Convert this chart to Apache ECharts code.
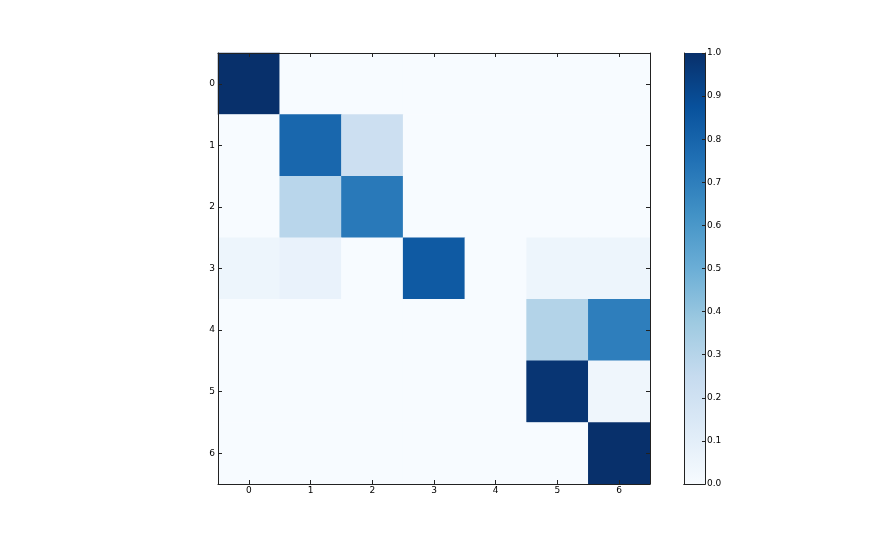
<!DOCTYPE html>
<html>
<head>
<meta charset="utf-8">
<script src="https://cdn.jsdelivr.net/npm/echarts@6/dist/echarts.min.js"></script>
<style>html,body{margin:0;padding:0;background:#fff}#c{width:872px;height:538px}</style>
</head>
<body>
<div id="c"></div>
<script>
var xLabels = ['0','1','2','3','4','5','6'];
var yLabels = ['0','1','2','3','4','5','6'];
var row0 = [1.00, 0.00, 0.00, 0.00, 0.00, 0.00, 0.00];
var row1 = [0.00, 0.79, 0.22, 0.00, 0.00, 0.00, 0.00];
var row2 = [0.00, 0.29, 0.72, 0.00, 0.00, 0.00, 0.00];
var row3 = [0.05, 0.07, 0.00, 0.84, 0.00, 0.05, 0.05];
var row4 = [0.00, 0.00, 0.00, 0.00, 0.00, 0.31, 0.70];
var row5 = [0.00, 0.00, 0.00, 0.00, 0.00, 0.98, 0.04];
var row6 = [0.00, 0.00, 0.00, 0.00, 0.00, 0.00, 1.00];
var colorbarTicks = [0.0, 0.1, 0.2, 0.3, 0.4, 0.5, 0.6, 0.7, 0.8, 0.9, 1.0];

var rows = [row0, row1, row2, row3, row4, row5, row6];
var blues = ['#f7fbff','#deebf7','#c6dbef','#9ecae1','#6baed6','#4292c6','#2171b5','#08519c','#08306b'];

var data = [];
rows.forEach(function (r, yi) {
  r.forEach(function (v, xi) { data.push([xi, yi, v]); });
});

var axisCol = '#222';
var lblStyle = { color: '#000', fontSize: 9, fontFamily: 'DejaVu Sans' };
var tickStyle = { show: true, inside: true, length: 4, alignWithLabel: true, lineStyle: { color: axisCol } };

var chart = echarts.init(document.getElementById('c'), null, { renderer: 'canvas' });
chart.setOption({
  animation: false,
  backgroundColor: '#fff',
  grid: [
    { left: 218, top: 53, width: 432, height: 431 },
    { left: 684, top: 53, width: 21, height: 431 }
  ],
  xAxis: [
    { type: 'category', gridIndex: 0, data: xLabels, position: 'bottom', z: 10,
      axisLine: { lineStyle: { color: axisCol } }, axisTick: tickStyle,
      axisLabel: Object.assign({ margin: 2 }, lblStyle), splitLine: { show: false } },
    { type: 'category', gridIndex: 0, data: xLabels, position: 'top', z: 10,
      axisLine: { lineStyle: { color: axisCol } }, axisTick: tickStyle,
      axisLabel: { show: false } },
    { type: 'category', gridIndex: 1, data: ['c'], position: 'bottom', z: 10,
      axisLine: { lineStyle: { color: axisCol } }, axisTick: { show: false }, axisLabel: { show: false } },
    { type: 'category', gridIndex: 1, data: ['c'], position: 'top', z: 10,
      axisLine: { lineStyle: { color: axisCol } }, axisTick: { show: false }, axisLabel: { show: false } }
  ],
  yAxis: [
    { type: 'category', gridIndex: 0, data: yLabels, inverse: true, position: 'left', z: 10,
      axisLine: { lineStyle: { color: axisCol } }, axisTick: tickStyle,
      axisLabel: Object.assign({ margin: 3 }, lblStyle), splitLine: { show: false } },
    { type: 'category', gridIndex: 0, data: yLabels, inverse: true, position: 'right', z: 10,
      axisLine: { lineStyle: { color: axisCol } }, axisTick: tickStyle,
      axisLabel: { show: false } },
    { type: 'value', gridIndex: 1, min: 0, max: 1, interval: 0.1, position: 'right', z: 10,
      axisLine: { show: true, lineStyle: { color: axisCol } },
      axisTick: { show: true, inside: true, length: 3, lineStyle: { color: axisCol } },
      axisLabel: Object.assign({ margin: 2, formatter: function (v) { return v.toFixed(1); } }, lblStyle),
      splitLine: { show: false } },
    { type: 'value', gridIndex: 1, min: 0, max: 1, interval: 0.1, position: 'left', z: 10,
      axisLine: { show: true, lineStyle: { color: axisCol } },
      axisTick: { show: false }, axisLabel: { show: false }, splitLine: { show: false } }
  ],
  visualMap: {
    show: false, type: 'continuous', min: 0, max: 1, seriesIndex: 0, dimension: 2,
    inRange: { color: blues }
  },
  series: [
    { type: 'heatmap', xAxisIndex: 0, yAxisIndex: 0, data: data, itemStyle: { borderWidth: 0 } },
    { type: 'bar', xAxisIndex: 2, yAxisIndex: 2, data: [colorbarTicks[colorbarTicks.length - 1]],
      barWidth: '100%', silent: true,
      itemStyle: {
        color: new echarts.graphic.LinearGradient(0, 1, 0, 0, blues.map(function (c, i) {
          return { offset: i / (blues.length - 1), color: c };
        }))
      } }
  ]
});
</script>
</body>
</html>
